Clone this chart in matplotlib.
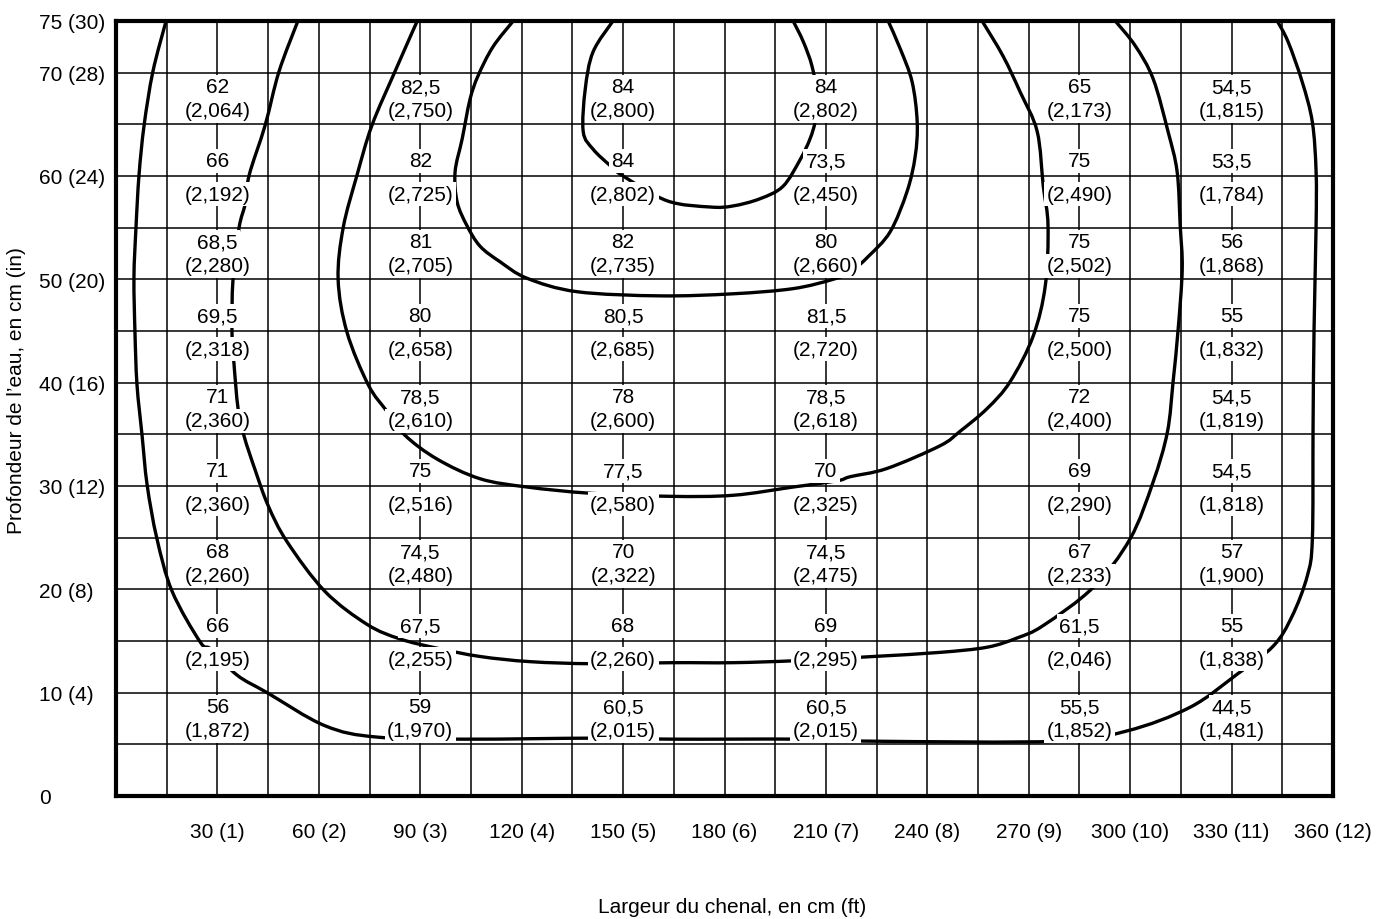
import numpy as np
import matplotlib.pyplot as plt
from matplotlib.path import Path
from matplotlib.patches import PathPatch

plt.rcParams['font.family'] = ['Liberation Sans', 'DejaVu Sans']

# measurement points: channel width (cm) and water depth (cm)
col_x = [30, 90, 150, 210, 285, 330]
row_y = [67.5, 60, 52.5, 45, 37.5, 30, 22.5, 15, 7.5]

# upper value at each point, one list per column, top row first
top_vals = [
    [62, 66, 68.5, 69.5, 71, 71, 68, 66, 56],
    [82.5, 82, 81, 80, 78.5, 75, 74.5, 67.5, 59],
    [84, 84, 82, 80.5, 78, 77.5, 70, 68, 60.5],
    [84, 73.5, 80, 81.5, 78.5, 70, 74.5, 69, 60.5],
    [65, 75, 75, 75, 72, 69, 67, 61.5, 55.5],
    [54.5, 53.5, 56, 55, 54.5, 54.5, 57, 55, 44.5],
]
# value in brackets under it
bottom_vals = [
    [2064, 2192, 2280, 2318, 2360, 2360, 2260, 2195, 1872],
    [2750, 2725, 2705, 2658, 2610, 2516, 2480, 2255, 1970],
    [2800, 2802, 2735, 2685, 2600, 2580, 2322, 2260, 2015],
    [2802, 2450, 2660, 2720, 2618, 2325, 2475, 2295, 2015],
    [2173, 2490, 2502, 2500, 2400, 2290, 2233, 2046, 1852],
    [1815, 1784, 1868, 1832, 1819, 1818, 1900, 1838, 1481],
]

# iso-lines, from outermost to innermost
curve_a_x = [14.8, 10.9, 8.3, 6.8, 5.9, 5.3, 5.6, 6.2, 7.7, 9.2, 12.1, 16.6, 24.9, 28.1,
             35.8, 44.7, 61.8, 77.2, 103.8, 142.3, 164.8, 202.4, 225.1, 278.4, 299.1,
             317.8, 331.7, 342.3, 347.9, 352.4, 353.9, 354.1, 354.4, 355.0, 355.0, 353.9,
             350.9, 346.7, 343.5]
curve_a_y = [75, 70.1, 64.9, 60.1, 55.0, 50.2, 44.9, 39.8, 34.9, 30.1, 24.9, 19.8, 14.9, 14.2,
             11.7, 10.0, 6.8, 5.7, 5.5, 5.6, 5.5, 5.5, 5.3, 5.3, 6.3,
             8.6, 11.8, 14.5, 17.4, 21.3, 24.9, 35.5, 45.2, 55.2, 60.4, 65.2,
             69.1, 73.0, 75]

curve_b_x = [53.8, 48.2, 44.1, 39.4, 38.2, 36.4, 34.6, 34.3, 34.9, 36.1, 37.9, 41.1, 45.0,
             50.6, 61.8, 74.3, 84.0, 95.0, 107.7, 122.5, 141.1, 164.5, 182.5, 201.5,
             224.0, 243.8, 257.7, 266.6, 274.3, 289.1, 300.0, 306.8, 311.0, 312.7,
             314.2, 315.4, 314.8, 313.9, 311.2, 306.8, 301.5, 295.6]
curve_b_y = [75, 70.1, 64.9, 60.1, 57.3, 55.0, 50.0, 44.9, 41.8, 37.5, 34.8, 31.6, 28.1,
             24.6, 19.8, 16.6, 15.2, 14.3, 13.5, 13.0, 12.8, 12.9, 12.9, 13.1,
             13.5, 13.9, 14.4, 15.3, 16.5, 20.2, 24.9, 30.4, 35.2, 40.1,
             45.2, 51.0, 55.2, 60.4, 64.3, 69.4, 72.6, 75]

curve_c_x = [89.1, 82.5, 75.7, 71.3, 67.2, 65.7, 68.3, 74.6, 80.2, 85.5, 95.0, 107.7, 121.6,
             140.2, 163.9, 182.5, 200.3, 213.3, 217.2, 228.1, 243.8, 249.7, 257.7, 264.5,
             271.3, 274.9, 275.7, 274.3, 272.5, 267.5, 262.4, 256.2]
curve_c_y = [75, 70.1, 64.9, 60.1, 55.0, 50.0, 44.9, 39.8, 37.2, 34.9, 32.6, 30.7, 29.9,
             29.3, 29.0, 29.1, 29.9, 30.5, 30.9, 31.7, 33.9, 35.3, 37.5, 40.1,
             44.5, 49.4, 55.2, 59.0, 64.3, 68.1, 71.6, 75]

curve_d_x = [117.5, 111.5, 107.1, 104.7, 102.4, 100.3, 100.9, 103.8, 107.7, 113.6, 121.6,
             136.4, 160.9, 182.5, 200.3, 212.1, 217.2, 222.5, 229.0, 234.0, 236.4, 237.0,
             235.5, 232.0, 228.4]
curve_d_y = [75, 72.5, 69.7, 67.4, 63.6, 60.4, 57.5, 55.2, 53.2, 51.7, 50.1,
             48.8, 48.4, 48.6, 49.1, 50.0, 50.7, 52.2, 54.6, 58.5, 61.9, 65.2,
             69.1, 72.3, 75]

curve_e_x = [147.0, 141.1, 138.8, 138.2, 141.1, 146.2, 150.0, 163.0, 175.7, 182.5, 190.5,
             197.3, 202.4, 205.3, 206.8, 207.4, 205.9, 203.3, 200.3]
curve_e_y = [75, 72.0, 68.4, 64.3, 62.6, 61.0, 60.0, 57.6, 57.0, 57.1, 57.8,
             59.0, 61.6, 63.6, 65.3, 67.7, 70.6, 73.0, 75]

x_ticks = [30, 60, 90, 120, 150, 180, 210, 240, 270, 300, 330, 360]
x_tick_labels = ["30 (1)", "60 (2)", "90 (3)", "120 (4)", "150 (5)", "180 (6)",
                 "210 (7)", "240 (8)", "270 (9)", "300 (10)", "330 (11)", "360 (12)"]
y_ticks = [0, 10, 20, 30, 40, 50, 60, 70, 75]
y_tick_labels = ["0", "10 (4)", "20 (8)", "30 (12)", "40 (16)", "50 (20)",
                 "60 (24)", "70 (28)", "75 (30)"]


def smooth_path(xs, ys):
    """Catmull-Rom curve through the given points, as cubic Bezier segments."""
    pts = np.column_stack([xs, ys]).astype(float)
    ext = np.vstack([pts[0], pts, pts[-1]])
    verts = [pts[0]]
    codes = [Path.MOVETO]
    for i in range(len(pts) - 1):
        p0, p1, p2, p3 = ext[i], ext[i + 1], ext[i + 2], ext[i + 3]
        verts += [p1 + (p2 - p0) / 6, p2 - (p3 - p1) / 6, p2]
        codes += [Path.CURVE4] * 3
    return Path(verts, codes)


fig = plt.figure(figsize=(13.98, 9.2), dpi=100)
ax = fig.add_axes([0.083, 0.1337, 0.8705, 0.8424])
ax.set_xlim(0, 360)
ax.set_ylim(0, 75)

# grid: every 15 cm across, every 5 cm in depth
for gx in np.arange(15, 360, 15):
    ax.axvline(gx, color='black', lw=1.1, zorder=1)
for gy in np.arange(5, 75, 5):
    ax.axhline(gy, color='black', lw=1.1, zorder=1)

for cx, cy in [(curve_a_x, curve_a_y), (curve_b_x, curve_b_y), (curve_c_x, curve_c_y),
               (curve_d_x, curve_d_y), (curve_e_x, curve_e_y)]:
    ax.add_patch(PathPatch(smooth_path(cx, cy), fill=False, ec='black', lw=2.4,
                           capstyle='round', joinstyle='round', zorder=2))

box = dict(boxstyle='square,pad=0.12', fc='white', ec='none')
for x, tops, bots in zip(col_x, top_vals, bottom_vals):
    for y, t, b in zip(row_y, tops, bots):
        if y % 5 == 0:
            up, down = 10.8, -13.0
        else:
            up, down = 8.3, -8.8
        top_txt = f"{t:g}".replace('.', ',')
        bot_txt = f"({b:,})"
        ax.annotate(top_txt, (x, y), xytext=(0, up), textcoords='offset points',
                    ha='center', va='center', fontsize=15, zorder=4, bbox=box)
        ax.annotate(bot_txt, (x, y), xytext=(0, down), textcoords='offset points',
                    ha='center', va='center', fontsize=15, zorder=4, bbox=box)

for s in ax.spines.values():
    s.set_linewidth(3)
    s.set_zorder(5)

ax.set_xticks(x_ticks)
ax.set_xticklabels(x_tick_labels, fontsize=15)
ax.set_yticks(y_ticks)
ax.set_yticklabels(y_tick_labels, fontsize=15)
for lbl in ax.get_yticklabels():
    lbl.set_ha('left')
ax.tick_params(axis='x', length=0, pad=19)
ax.tick_params(axis='y', length=0, pad=55.5)

fig.text(0.524, 0.014, "Largeur du chenal, en cm (ft)", ha='center', va='center', fontsize=15)
fig.text(0.012, 0.575, "Profondeur de l’eau, en cm (in)", ha='center', va='center',
         rotation=90, fontsize=15)

fig.savefig('out.png', dpi=100)
